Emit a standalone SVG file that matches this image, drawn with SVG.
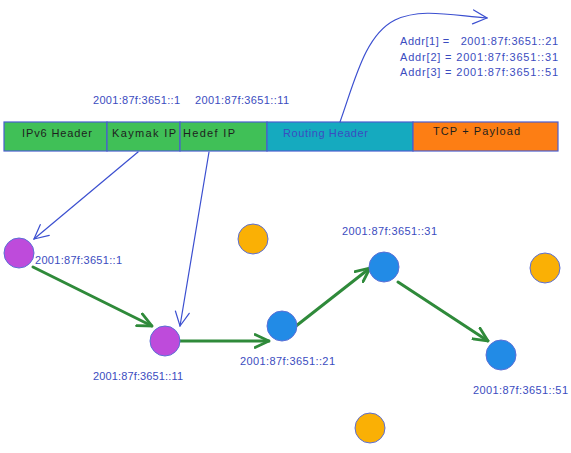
<svg xmlns="http://www.w3.org/2000/svg" width="571" height="453" viewBox="0 0 571 453">
<defs>
<style>
.lbl{font-family:"Liberation Sans",Arial,sans-serif;font-size:11px;fill:#3b4cc0}
.hdr{font-family:"Liberation Sans",Arial,sans-serif;font-size:11px;fill:#1e1e1e}
.cell{stroke:#4a5ecf;stroke-width:1.2}
.node{stroke:#5b6fd6;stroke-width:1}
.green{fill:none;stroke:#2f8a3a;stroke-width:3;stroke-linecap:round}
.blue{fill:none;stroke:#3b4fd0;stroke-width:1.2;stroke-linecap:round}
</style>
<marker id="ga" viewBox="0 0 16 16" refX="15" refY="8" markerWidth="16" markerHeight="16" markerUnits="userSpaceOnUse" orient="auto"><path d="M1 1.5 L15 8 L1 14.5" fill="none" stroke="#2f8a3a" stroke-width="2.8" stroke-linecap="round"/></marker>
<marker id="ba" viewBox="0 0 16 16" refX="15" refY="8" markerWidth="16" markerHeight="16" markerUnits="userSpaceOnUse" orient="auto"><path d="M1 1 L15 8 L1 15" fill="none" stroke="#3b4fd0" stroke-width="1.2" stroke-linecap="round"/></marker>
</defs>
<rect width="571" height="453" fill="#fff"/>
<g id="packet">
<rect class="cell" x="4" y="122" width="103" height="29" fill="#40c057"/>
<rect class="cell" x="107" y="122" width="73" height="29" fill="#40c057"/>
<rect class="cell" x="180" y="122" width="87" height="29" fill="#40c057"/>
<rect class="cell" x="267" y="122" width="146" height="29" fill="#15aabf"/>
<rect class="cell" x="413" y="122" width="145" height="29" fill="#fd7e14"/>
<text class="hdr" x="22" y="137" textLength="70">IPv6 Header</text>
<text class="hdr" x="112" y="137" textLength="64">Kaymak IP</text>
<text class="hdr" x="183" y="137" textLength="52">Hedef IP</text>
<text class="lbl" x="283" y="137" textLength="85">Routing Header</text>
<text class="hdr" x="433" y="135" textLength="87">TCP + Payload</text>
</g>
<g id="header-labels">
<text class="lbl" x="93" y="104" textLength="87">2001:87f:3651::1</text>
<text class="lbl" x="195" y="104" textLength="94">2001:87f:3651::11</text>
<text class="lbl" x="400" y="45" textLength="158" xml:space="preserve">Addr[1] =   2001:87f:3651::21</text>
<text class="lbl" x="400" y="61" textLength="158">Addr[2] = 2001:87f:3651::31</text>
<text class="lbl" x="400" y="76" textLength="158">Addr[3] = 2001:87f:3651::51</text>
</g>
<g id="connectors">
<path class="blue" d="M340 122 C355 80 365 35 395 20 C420 8 450 15 487 18" marker-end="url(#ba)"/>
<path class="blue" d="M138 152 L34 239" marker-end="url(#ba)"/>
<path class="blue" d="M209 152 L180 326" marker-end="url(#ba)"/>
<path class="green" d="M33 267 L152 326" marker-end="url(#ga)"/>
<path class="green" d="M180 341 L269 341" marker-end="url(#ga)"/>
<path class="green" d="M296 326 L370 268" marker-end="url(#ga)"/>
<path class="green" d="M398 282 L488 341" marker-end="url(#ga)"/>
</g>
<g id="n1"><circle class="node" cx="19" cy="253" r="15" fill="#be4bdb"/><text class="lbl" x="35" y="264" textLength="87">2001:87f:3651::1</text></g>
<g id="n11"><circle class="node" cx="165" cy="341" r="15" fill="#be4bdb"/><text class="lbl" x="93" y="380" textLength="90">2001:87f:3651::11</text></g>
<g id="n21"><circle class="node" cx="282" cy="326" r="15" fill="#228be6"/><text class="lbl" x="240" y="365" textLength="95">2001:87f:3651::21</text></g>
<g id="n31"><circle class="node" cx="384" cy="267" r="15" fill="#228be6"/><text class="lbl" x="342" y="235" textLength="95">2001:87f:3651::31</text></g>
<g id="n51"><circle class="node" cx="501" cy="355" r="15" fill="#228be6"/><text class="lbl" x="473" y="394" textLength="95">2001:87f:3651::51</text></g>
<g id="o1"><circle class="node" cx="253" cy="239" r="15" fill="#fab005"/></g>
<g id="o2"><circle class="node" cx="545" cy="268" r="15" fill="#fab005"/></g>
<g id="o3"><circle class="node" cx="370" cy="428" r="15" fill="#fab005"/></g>
</svg>
